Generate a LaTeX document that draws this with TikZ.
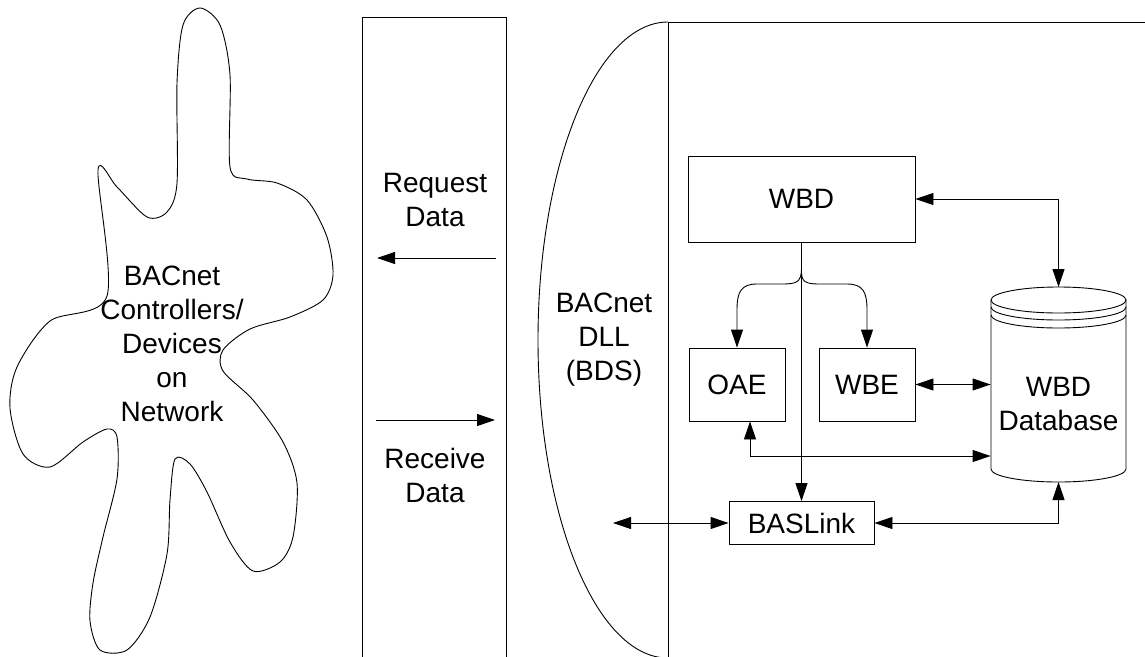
\documentclass[tikz,border=0pt]{standalone}
\usepackage{fontspec}
\setmainfont{Liberation Sans}
\usetikzlibrary{arrows.meta}

\begin{document}
\begin{tikzpicture}[x=1pt,y=-1pt,line width=0.9pt,
    box/.style={draw,inner sep=0pt,font=\fontsize{28}{34}\selectfont},
    txt/.style={align=center,inner sep=0pt,font=\fontsize{28}{34}\selectfont},
    arr/.style={-{Triangle[length=18pt,width=12pt]}},
    darr/.style={{Triangle[length=18pt,width=12pt]}-{Triangle[length=18pt,width=12pt]}}]
\useasboundingbox (0,0) rectangle (1145,656);
% network cloud
\draw plot[smooth cycle] coordinates {(200,8) (220,25) (230,75) (230,167) (247,179) (277,183)
    (307,200) (327,237) (333,275) (323,300) (290,317) (250,329) (223,350) (223,371) (253,400)
    (283,442) (297,483) (293,537) (280,562) (253,571) (230,542) (207,492) (190,464) (175,459)
    (170,500) (167,554) (150,617) (127,650) (100,650) (90,621) (93,583) (103,537) (117,479)
    (117,437) (107,429) (83,442) (50,467) (23,454) (10,408) (17,367) (50,321) (107,296)
    (98,170) (117,187) (147,217) (167,212) (177,183) (177,83) (183,25)};
\node[txt] (net) at (172,344) {BACnet\\Controllers/\\Devices\\on\\Network};
% request / receive column
\draw (362,17) rectangle (506,664);
\node[txt] (req) at (435,200) {Request\\Data};
\node[txt] (rcv) at (435,475) {Receive\\Data};
\coordinate (reqR) at (496,258);
\coordinate (reqL) at (377,258);
\coordinate (rcvL) at (376,420);
\coordinate (rcvR) at (495,420);
\draw[arr] (reqR) -- (reqL);
\draw[arr] (rcvL) -- (rcvR);
% data link layer
\draw (668,664) -- (668,22) -- (1150,22);
\draw (668,22) arc[start angle=270,end angle=90,x radius=130,y radius=318];
\node[txt] (dll) at (604,340) {BACnet\\DLL\\(BDS)};
% boxes
\node[box,minimum width=227,minimum height=86] (wbd) at (801.5,199) {WBD};
\node[box,minimum width=96,minimum height=73] (oae) at (737,384.5) {OAE};
\node[box,minimum width=96,minimum height=73] (wbe) at (867,384.5) {WBE};
\node[box,minimum width=145,minimum height=43] (bas) at (801.5,523) {BASLink};
% database
\node[txt,minimum width=135] (db) at (1058.5,404) {WBD\\Database};
\draw (991,300) -- (991,469) arc[start angle=180,end angle=0,x radius=67.5,y radius=13] -- (1126,300);
\draw (1058.5,300) ellipse[x radius=67.5,y radius=13];
\draw (991,307) arc[start angle=180,end angle=0,x radius=67.5,y radius=13];
\draw (991,315) arc[start angle=180,end angle=0,x radius=67.5,y radius=13];
\coordinate (dbtop) at (1058.5,287);
\coordinate (dbbot) at (1058.5,482);
% connectors
\coordinate (fork) at ([yshift=-27pt]wbd.south);
\draw[arr] (wbd.south) -- (bas.north);
\draw[arr] (fork) .. controls (801,282) and (797,284) .. (782,284) -- (757,284)
    .. controls (741,284) and (737,292) .. (737,310) -- (oae.north);
\draw[arr] (fork) .. controls (801,282) and (805,284) .. (820,284) -- (847,284)
    .. controls (863,284) and (867,292) .. (867,310) -- (wbe.north);
\draw[darr] (wbd.east) -| (dbtop);
\draw[darr] (wbe.east) -- (wbe.east -| db.west);
\draw[darr] ([xshift=13pt]oae.south) |- ([yshift=-52pt]db.west);
\draw[darr] (bas.east) -| (dbbot);
\coordinate (dllin) at (613,523);
\draw[darr] (dllin) -- (bas.west);
\end{tikzpicture}
\end{document}
